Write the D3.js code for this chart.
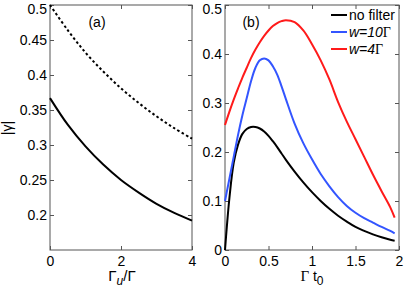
<!DOCTYPE html>
<html><head><meta charset="utf-8">
<script src="https://cdn.jsdelivr.net/npm/d3@7"></script>
<style>body{margin:0;background:#fff}svg{display:block}text{font-family:"Liberation Sans",Arial,sans-serif}</style>
</head><body><svg id="c" width="415" height="291"></svg>
<script>
// Panel (a)
const aX = [0,0.5,1,1.5,2,2.5,3,3.5,4];
const aSolid = [0.367,0.329,0.298,0.272,0.250,0.232,0.216,0.203,0.192];
const aDotted = [0.5,0.464,0.432,0.405,0.381,0.360,0.341,0.324,0.309];
const aXTicks = [0,2,4];
const aYTicks = [0.2,0.25,0.3,0.35,0.4,0.45,0.5];
// Panel (b)
const bX = [0,0.02,0.05,0.1,0.15,0.2,0.25,0.3,0.35,0.4,0.45,0.5,0.55,0.6,0.65,0.7,0.8,0.9,1.0,1.1,1.2,1.3,1.4,1.5,1.6,1.7,1.8,1.9,1.95];
const bNoFilter = [0,0.045,0.105,0.178,0.215,0.237,0.247,0.251,0.251,0.248,0.242,0.233,0.222,0.21,0.197,0.184,0.16,0.138,0.118,0.1,0.084,0.07,0.058,0.047,0.039,0.032,0.026,0.021,0.019];
const bW10 = [0.1,0.118,0.145,0.19,0.235,0.275,0.31,0.345,0.372,0.387,0.391,0.387,0.375,0.358,0.334,0.308,0.258,0.218,0.185,0.155,0.13,0.108,0.09,0.076,0.065,0.056,0.047,0.039,0.034];
const bW4 = [0.255,0.266,0.282,0.307,0.33,0.352,0.372,0.392,0.409,0.424,0.437,0.448,0.457,0.463,0.467,0.469,0.465,0.448,0.42,0.387,0.348,0.302,0.262,0.226,0.19,0.154,0.12,0.087,0.066];
const bXTicks = [0,0.5,1,1.5,2];
const bYTicks = [0,0.1,0.2,0.3,0.4,0.5];
const legendLabels = ["no filter","w=10Γ","w=4Γ"];
const colors = ["#000000","#3355ff","#ff1a1a"];

const svg = d3.select("#c");
const axisCol = "#555";

function frame(g, x, y, xt, yt, fmtY, fmtX){
  const [x0,x1] = x.range(), [y0,y1] = y.range();
  g.append("rect").attr("x",x0).attr("y",y1).attr("width",x1-x0).attr("height",y0-y1)
   .attr("fill","none").attr("stroke",axisCol).attr("stroke-width",1);
  const tl = 4;
  g.append("g").attr("transform",`translate(0,${y0})`)
   .call(d3.axisBottom(x).tickValues(xt).tickSize(-tl).tickPadding(6).tickFormat(fmtX))
   .call(s=>{s.select(".domain").remove();s.selectAll("line").attr("stroke",axisCol);s.selectAll("text").attr("font-size",14).attr("fill","#000");});
  g.append("g").attr("transform",`translate(0,${y1})`)
   .call(d3.axisTop(x).tickValues(xt).tickSize(-tl).tickFormat(""))
   .call(s=>{s.select(".domain").remove();s.selectAll("line").attr("stroke",axisCol);});
  g.append("g").attr("transform",`translate(${x0},0)`)
   .call(d3.axisLeft(y).tickValues(yt).tickSize(-tl).tickPadding(3).tickFormat(fmtY))
   .call(s=>{s.select(".domain").remove();s.selectAll("line").attr("stroke",axisCol);
     s.selectAll("text").attr("font-size",14).attr("fill","#000")
      .attr("dy",d=>d===yt[yt.length-1]?"0.62em":"0.32em");});
  g.append("g").attr("transform",`translate(${x1},0)`)
   .call(d3.axisRight(y).tickValues(yt).tickSize(-tl).tickFormat(""))
   .call(s=>{s.select(".domain").remove();s.selectAll("line").attr("stroke",axisCol);});
}
const fmt = d=>d3.format("~g")(d);

// Panel a
const xa = d3.scaleLinear().domain([0,4]).range([50,192]);
const ya = d3.scaleLinear().domain([0.15,0.5]).range([250,5]);
const ga = svg.append("g");
frame(ga, xa, ya, aXTicks, aYTicks, fmt, fmt);
const la = d3.line().x((d,i)=>xa(aX[i])).y(d=>ya(d)).curve(d3.curveCatmullRom.alpha(0.5));
ga.append("path").datum(aSolid).attr("d",la).attr("fill","none").attr("stroke","#000").attr("stroke-width",2);
ga.append("path").datum(aDotted).attr("d",la).attr("fill","none").attr("stroke","#000").attr("stroke-width",2).attr("stroke-dasharray","2.5,2.5");
ga.append("text").attr("x",97).attr("y",27).attr("text-anchor","middle").attr("font-size",14).text("(a)");
// y label
ga.append("text").attr("transform","translate(12,128) rotate(-90)").attr("text-anchor","middle")
  .attr("font-size",14).attr("font-family","Liberation Serif,serif").text("|γ|");
const xl = ga.append("text").attr("x",122).attr("y",281).attr("text-anchor","middle").attr("font-size",15).attr("font-family","Liberation Serif,serif");
xl.append("tspan").text("Γ");
xl.append("tspan").attr("font-style","italic").attr("font-size",12).attr("dy",4).text("u");
xl.append("tspan").attr("dy",-4).text("/Γ");

// Panel b
const xb = d3.scaleLinear().domain([0,2]).range([225,399]);
const yb = d3.scaleLinear().domain([0,0.5]).range([250,5]);
const gb = svg.append("g");
frame(gb, xb, yb, bXTicks, bYTicks, fmt, fmt);
const lb = d3.line().x((d,i)=>xb(bX[i])).y(d=>yb(d)).curve(d3.curveCatmullRom.alpha(0.5));
[bNoFilter,bW10,bW4].forEach((s,i)=>{
  gb.append("path").datum(s).attr("d",lb).attr("fill","none").attr("stroke",colors[i]).attr("stroke-width",2);
});
gb.append("text").attr("x",251).attr("y",27).attr("text-anchor","middle").attr("font-size",14).text("(b)");
const xl2 = gb.append("text").attr("x",312).attr("y",281).attr("text-anchor","middle").attr("font-size",15);
xl2.append("tspan").attr("font-family","Liberation Serif,serif").text("Γ ");
xl2.append("tspan").attr("font-size",14).text("t");
xl2.append("tspan").attr("font-size",12).attr("dy",4).text("0");

// legend
const legY = [15,32,49];
legendLabels.forEach((lab,i)=>{
  gb.append("line").attr("x1",331).attr("x2",347).attr("y1",legY[i]).attr("y2",legY[i]).attr("stroke",colors[i]).attr("stroke-width",2);
  const t = gb.append("text").attr("x",349).attr("y",legY[i]+5).attr("font-size",14);
  if(i===0){ t.text(lab); }
  else {
    const m = lab.match(/^(.*)(Γ)$/);
    t.append("tspan").attr("font-style","italic").text(m[1]);
    t.append("tspan").attr("font-family","Liberation Serif,serif").text(m[2]);
  }
});
</script></body></html>
